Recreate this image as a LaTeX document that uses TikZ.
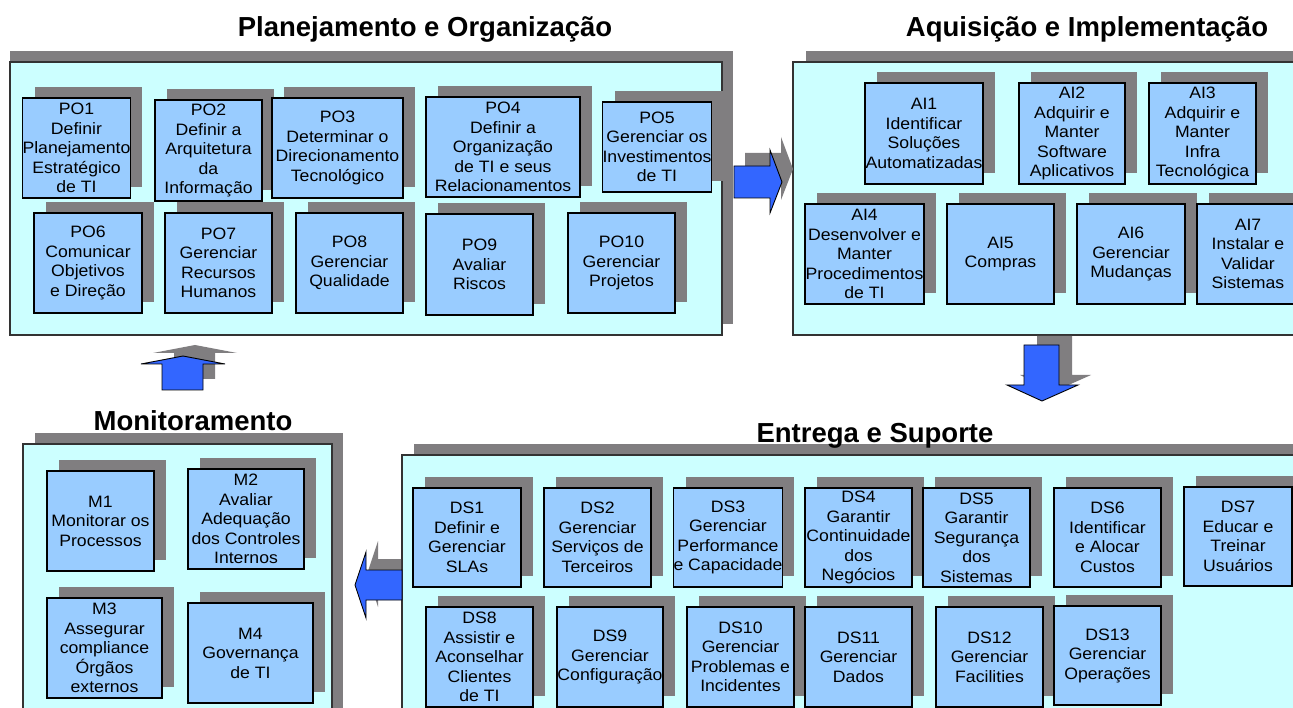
\documentclass[tikz,border=0pt]{standalone}
\usepackage{fontspec}
\setmainfont{Liberation Sans}
\newfontfamily\boxfont[FakeStretch=1.07]{Liberation Sans}
\definecolor{panelfill}{RGB}{204,255,255}
\definecolor{boxfill}{RGB}{153,204,255}
\definecolor{shadowgray}{RGB}{128,126,128}
\definecolor{arrowblue}{RGB}{51,102,255}
\tikzset{
  panel/.style={draw=black!80, line width=1.5pt, fill=panelfill},
  cbx/.style={draw=black, line width=1.3pt, fill=boxfill, inner sep=0pt, align=center,
     font=\boxfont\fontsize{16.5}{19.5}\selectfont},
  ttl/.style={font=\bfseries\fontsize{27.5}{30}\selectfont, anchor=base},
  blockarrow/.style={fill=arrowblue, draw=black, line width=0.9pt, line join=miter},
  arrowshadow/.style={fill=shadowgray}
}
\newcommand\cobitbox[6]{%
  \fill[shadowgray] (#2+12,#3-11) rectangle (#4+12,#5-11);
  \node[cbx, minimum width={(#4-#2)*1pt}, minimum height={(#5-#3)*1pt}] (#1) at ({(#2+#4)/2},{(#3+#5)/2}) {#6};
}
\begin{document}
\begin{tikzpicture}[x=1pt,y=-1pt]
\useasboundingbox (0,0) rectangle (1293,708);
\clip (0,0) rectangle (1293,708);
\fill[white] (0,0) rectangle (1293,708);

% PO panel
\fill[shadowgray] (10,51) rectangle (733,324);
\node[panel, minimum width=712pt, minimum height=273pt, inner sep=0pt] (po) at (366,198.5) {};
\cobitbox{po1}{23}{98}{130}{198}{PO1\\Definir\\Planejamento\\Estratégico\\de TI}
\cobitbox{po2}{155}{100}{262}{201}{PO2\\Definir a\\Arquitetura\\da\\Informação}
\cobitbox{po3}{272}{98}{403}{198}{PO3\\Determinar o\\Direcionamento\\Tecnológico}
\cobitbox{po4}{426}{97}{580}{197}{PO4\\Definir a\\Organização\\de TI e seus\\Relacionamentos}
\cobitbox{po5}{603}{102}{711}{192}{PO5\\Gerenciar os\\Investimentos\\de TI}
\cobitbox{po6}{34}{213}{142}{313}{PO6\\Comunicar\\Objetivos\\e Direção}
\cobitbox{po7}{165}{213}{272}{313}{PO7\\Gerenciar\\Recursos\\Humanos}
\cobitbox{po8}{296}{213}{403}{313}{PO8\\Gerenciar\\Qualidade}
\cobitbox{po9}{426}{214}{533}{315}{PO9\\Avaliar\\Riscos}
\cobitbox{po10}{568}{213}{675}{313}{PO10\\Gerenciar\\Projetos}

% AI panel
\fill[shadowgray] (806,51) rectangle (1320,324);
\node[panel, minimum width=520pt, minimum height=273pt, inner sep=0pt] (ai) at (1053,198.5) {};
\cobitbox{ai1}{865}{83}{983}{184}{AI1\\Identificar\\Soluções\\Automatizadas}
\cobitbox{ai2}{1019}{83}{1125}{184}{AI2\\Adquirir e\\Manter\\Software\\Aplicativos}
\cobitbox{ai3}{1149}{83}{1256}{184}{AI3\\Adquirir e\\Manter\\Infra\\Tecnológica}
\cobitbox{ai4}{805}{204}{924}{304}{AI4\\Desenvolver e\\Manter\\Procedimentos\\de TI}
\cobitbox{ai5}{947}{204}{1054}{304}{AI5\\Compras}
\cobitbox{ai6}{1077}{204}{1185}{304}{AI6\\Gerenciar\\Mudanças}
\cobitbox{ai7}{1197}{204}{1299}{304}{AI7\\Instalar e\\Validar\\Sistemas}

% M panel
\fill[shadowgray] (35,433) rectangle (343,730);
\node[panel, minimum width=309pt, minimum height=290pt, inner sep=0pt] (m) at (177.5,589) {};
\cobitbox{m1}{47}{471}{154}{571}{M1\\Monitorar os\\Processos}
\cobitbox{m2}{188}{469}{304}{569}{M2\\Avaliar\\Adequação\\dos Controles\\Internos}
\cobitbox{m3}{47}{598}{162}{698}{M3\\Assegurar\\compliance\\Órgãos\\externos}
\cobitbox{m4}{188}{603}{313}{703}{M4\\Governança\\de TI}

% DS panel
\fill[shadowgray] (414,444) rectangle (1320,730);
\node[panel, minimum width=918pt, minimum height=290pt, inner sep=0pt] (ds) at (861,600) {};
\cobitbox{ds1}{413}{488}{521}{587}{DS1\\Definir e\\Gerenciar\\SLAs}
\cobitbox{ds2}{544}{488}{651}{587}{DS2\\Gerenciar\\Serviços de\\Terceiros}
\cobitbox{ds3}{674}{488}{782}{587}{DS3\\Gerenciar\\Performance\\e Capacidade}
\cobitbox{ds4}{805}{488}{912}{587}{DS4\\Garantir\\Continuidade\\dos\\Negócios}
\cobitbox{ds5}{923}{488}{1030}{587}{DS5\\Garantir\\Segurança\\dos\\Sistemas}
\cobitbox{ds6}{1054}{488}{1161}{587}{DS6\\Identificar\\e Alocar\\Custos}
\cobitbox{ds7}{1184}{487}{1292}{586}{DS7\\Educar e\\Treinar\\Usuários}
\cobitbox{ds8}{426}{607}{533}{707}{DS8\\Assistir e\\Aconselhar\\Clientes\\de TI}
\cobitbox{ds9}{557}{607}{663}{707}{DS9\\Gerenciar\\Configuração}
\cobitbox{ds10}{687}{607}{794}{707}{DS10\\Gerenciar\\Problemas e\\Incidentes}
\cobitbox{ds11}{805}{607}{912}{707}{DS11\\Gerenciar\\Dados}
\cobitbox{ds12}{936}{607}{1043}{707}{DS12\\Gerenciar\\Facilities}
\cobitbox{ds13}{1054}{606}{1161}{705}{DS13\\Gerenciar\\Operações}

% right arrow PO -> AI
\fill[arrowshadow] (745,153) -- (781,153) -- (781,137) -- (793,169) -- (781,200) -- (781,185) -- (745,185) -- cycle;
\draw[blockarrow] (734,166) -- (770,166) -- (770,150) -- (782,182) -- (770,213) -- (770,198) -- (734,198) -- cycle;

% down arrow AI -> DS
\fill[arrowshadow] (1037,336) -- (1072,336) -- (1072,375) -- (1091,375) -- (1055,391) -- (1020,375) -- (1037,375) -- cycle;
\draw[blockarrow] (1024,345) -- (1059,345) -- (1059,385) -- (1078,385) -- (1042,401) -- (1007,385) -- (1024,385) -- cycle;

% left arrow DS -> M
\fill[arrowshadow] (401,559) -- (378,559) -- (378,541) -- (367,574) -- (378,607) -- (378,589) -- (401,589) -- cycle;
\draw[blockarrow] (402,570) -- (366,570) -- (366,552) -- (355,585) -- (366,618) -- (366,600) -- (402,600) -- cycle;

% up arrow M -> PO
\fill[arrowshadow] (174,379) -- (174,353) -- (153,353) -- (195,345) -- (237,353) -- (215,353) -- (215,379) -- cycle;
\draw[blockarrow] (162,390) -- (162,364) -- (141,364) -- (183,356) -- (225,364) -- (203,364) -- (203,390) -- cycle;

% titles
\node[ttl] (tpo) at (425,37) {Planejamento e Organização};
\node[ttl] (tai) at (1087,37) {Aquisição e Implementação};
\node[ttl] (tm) at (193,430) {Monitoramento};
\node[ttl] (tds) at (875,442) {Entrega e Suporte};
\end{tikzpicture}
\end{document}
